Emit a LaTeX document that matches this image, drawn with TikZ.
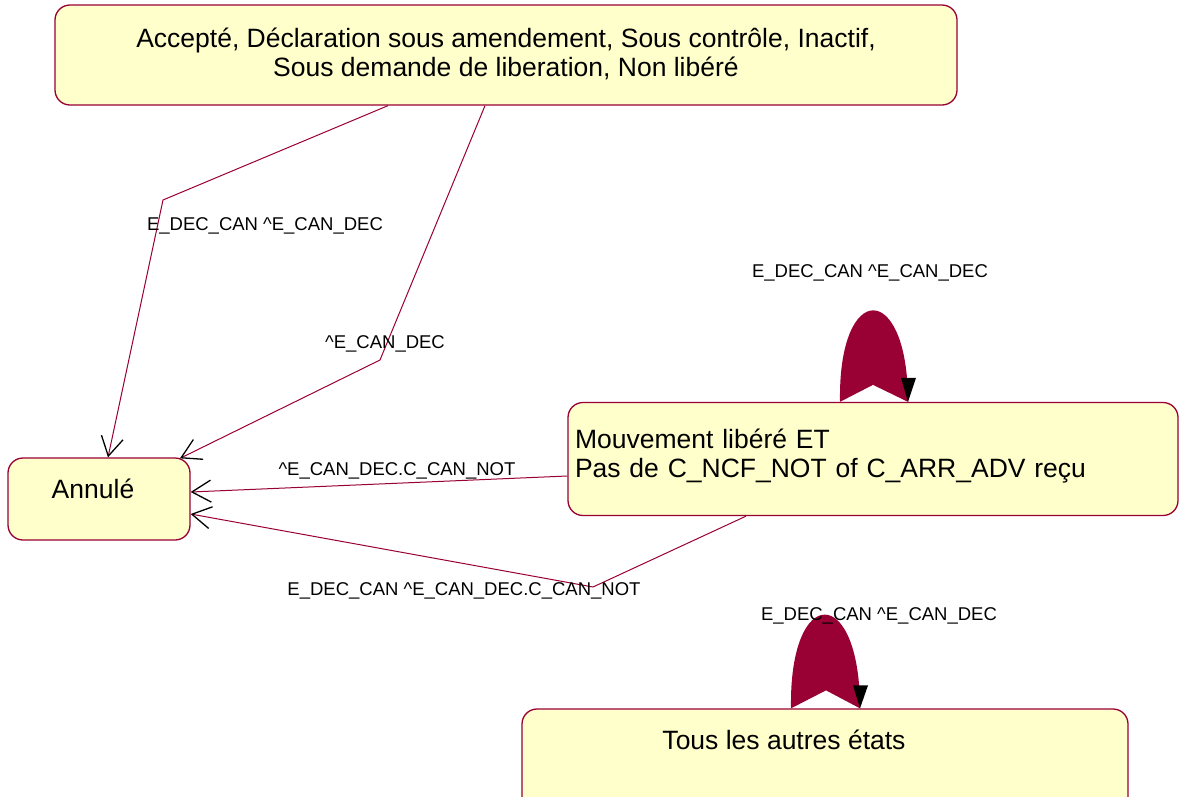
\documentclass[tikz,border=0pt]{standalone}
\usepackage{fontspec}
\setmainfont{Liberation Sans}
\usetikzlibrary{arrows.meta,calc}
\definecolor{yel}{HTML}{FFFFCC}
\definecolor{crim}{HTML}{990033}
\tikzset{
  statebox/.style={draw=crim, fill=yel, line width=1.3pt, rounded corners=15pt, inner sep=0pt},
  stxt/.style={font=\fontsize{26.5}{29}\selectfont},
  lbl/.style={font=\fontsize{18.5}{22}\selectfont, inner sep=0pt},
  edge/.style={draw=crim, line width=1pt, line join=round,
    -{Straight Barb[length=19pt,width=22pt,color=black,line width=1.3pt]}},
  loopfill/.style={fill=crim, draw=none},
  tip/.style={fill=black, draw=none}
}
\begin{document}
\begin{tikzpicture}[x=1pt,y=-1pt]
\useasboundingbox (0,0) rectangle (1181,796);
\clip (0,0) rectangle (1181,796);
% states
\node[statebox, minimum width=902pt, minimum height=100pt,
  label={[stxt, align=center, yshift=1pt]center:Accepté, Déclaration sous amendement, Sous contrôle, Inactif,\\Sous demande de liberation, Non libéré}]
  (top) at (506,55) {};
\node[statebox, minimum width=182pt, minimum height=82pt,
  label={[stxt, xshift=-6pt, yshift=10pt]center:Annulé}]
  (annule) at (99,499) {};
\node[statebox, minimum width=610pt, minimum height=113pt,
  label={[stxt, align=left, text width=596pt, xshift=0pt, yshift=3pt]center:Mouvement libéré ET\\Pas de C\_NCF\_NOT of C\_ARR\_ADV reçu}]
  (mouv) at (873,459) {};
\node[statebox, minimum width=606pt, minimum height=110pt,
  label={[stxt, xshift=-41pt, yshift=24pt]center:Tous les autres états}]
  (tous) at (825,764) {};
% bend points
\coordinate (b1) at (163,200);
\coordinate (b2) at (380,360);
\coordinate (b4) at (593,587);
% connectors
\draw[edge] ([xshift=-118pt]top.south) -- (b1) -- ([xshift=9pt]annule.north);
\draw[edge] ([xshift=-21pt]top.south) -- (b2) -- ([xshift=81pt,yshift=-1pt]annule.north);
\draw[edge] ([yshift=-17pt]mouv.west) -- ([yshift=7pt]annule.east);
\draw[edge] ([xshift=-127pt]mouv.south) -- (b4) -- ([yshift=-15pt]annule.east);
% self loop on mouv
\coordinate (l1a) at ($(mouv.north)+(-33,0)$);
\coordinate (l1b) at ($(mouv.north)+(35,0)$);
\coordinate (l1n) at ($(mouv.north)+(0,-17)$);
\fill[loopfill] (l1a) .. controls ($(l1a)+(-2,-122)$) and ($(l1b)+(0,-122)$) .. (l1b) -- (l1n) -- cycle;
\fill[tip] ($(l1b)+(-7,-24)$) -- ($(l1b)+(8,-24)$) -- (l1b) -- cycle;
% self loop on tous
\coordinate (l2a) at ($(tous.north)+(-34,0)$);
\coordinate (l2b) at ($(tous.north)+(35,0)$);
\coordinate (l2n) at ($(tous.north)+(1,-18)$);
\fill[loopfill] (l2a) .. controls ($(l2a)+(-2,-125)$) and ($(l2b)+(0,-125)$) .. (l2b) -- (l2n) -- cycle;
\fill[tip] ($(l2b)+(-7,-23)$) -- ($(l2b)+(8,-23)$) -- (l2b) -- cycle;
% labels
\node[lbl] (t1) at (265,226) {E\_DEC\_CAN \textasciicircum E\_CAN\_DEC};
\node[lbl] (t2) at (385,344) {\textasciicircum E\_CAN\_DEC};
\node[lbl] (t3) at (870,273) {E\_DEC\_CAN \textasciicircum E\_CAN\_DEC};
\node[lbl] (t4) at (397,471) {\textasciicircum E\_CAN\_DEC.C\_CAN\_NOT};
\node[lbl] (t5) at (464,591) {E\_DEC\_CAN \textasciicircum E\_CAN\_DEC.C\_CAN\_NOT};
\node[lbl] (t6) at (879,616) {E\_DEC\_CAN \textasciicircum E\_CAN\_DEC};
\end{tikzpicture}
\end{document}
